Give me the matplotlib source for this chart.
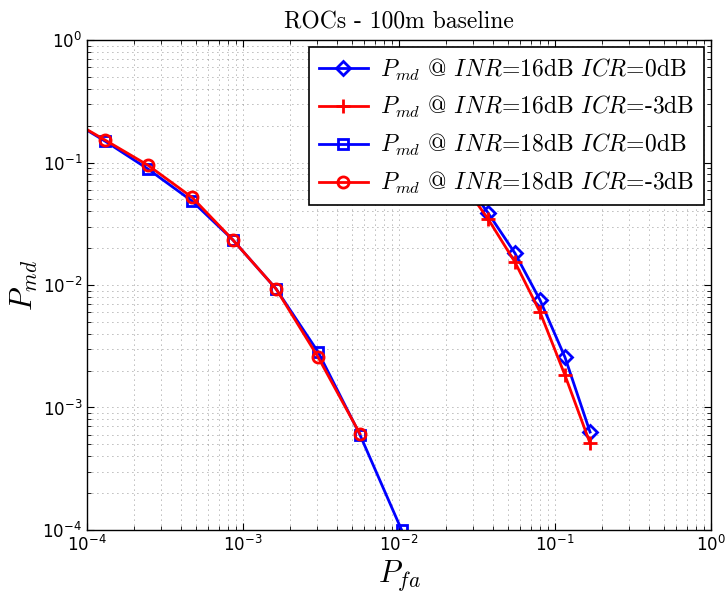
import numpy as np
import matplotlib
matplotlib.use("Agg")
import matplotlib.pyplot as plt
from matplotlib.ticker import LogLocator, NullFormatter

plt.rcParams['mathtext.fontset'] = 'cm'
plt.rcParams['font.family'] = 'DejaVu Sans'
plt.rcParams['axes.unicode_minus'] = False

# INR=16dB series (first points are hidden behind the legend)
pfa_16_0 = [0.0120, 0.0175, 0.0255, 0.0373, 0.0554, 0.0802, 0.1159, 0.168]
pmd_16_0 = [0.25, 0.14, 0.075, 0.0387, 0.0182, 0.00755, 0.00258, 0.00063]
pfa_16_3 = [0.0120, 0.0175, 0.0255, 0.0373, 0.0554, 0.0802, 0.1159, 0.168]
pmd_16_3 = [0.23, 0.13, 0.068, 0.0346, 0.0154, 0.00602, 0.00184, 0.00051]

# INR=18dB series
pfa_18_0 = [6.9e-5, 1.30e-4, 2.46e-4, 4.71e-4, 8.63e-4, 1.63e-3, 3.03e-3, 5.62e-3, 1.04e-2]
pmd_18_0 = [0.244, 0.150, 0.0885, 0.0485, 0.0233, 0.0093, 0.00284, 0.00060, 0.0001]
pfa_18_3 = [6.9e-5, 1.30e-4, 2.46e-4, 4.71e-4, 8.63e-4, 1.63e-3, 3.03e-3, 5.62e-3]
pmd_18_3 = [0.244, 0.153, 0.095, 0.052, 0.0233, 0.0093, 0.00258, 0.00061]

labels = [r'$P_{md}$ @ $INR$=16dB $ICR$=0dB',
          r'$P_{md}$ @ $INR$=16dB $ICR$=-3dB',
          r'$P_{md}$ @ $INR$=18dB $ICR$=0dB',
          r'$P_{md}$ @ $INR$=18dB $ICR$=-3dB']

fig = plt.figure(figsize=(7.28, 5.99), dpi=100)
ax = fig.add_axes([0.1195, 0.1152, 0.857, 0.818])

ax.loglog(pfa_16_0, pmd_16_0, '-', color='blue', lw=2, marker='D', ms=7, mfc='none', mew=2, label=labels[0])
ax.loglog(pfa_16_3, pmd_16_3, '-', color='red', lw=2, marker='+', ms=10, mew=2, label=labels[1])
ax.loglog(pfa_18_0, pmd_18_0, '-', color='blue', lw=2, marker='s', ms=7, mfc='none', mew=2, label=labels[2])
ax.loglog(pfa_18_3, pmd_18_3, '-', color='red', lw=2, marker='o', ms=8, mfc='none', mew=2, label=labels[3])

ax.set_xlim(1e-4, 1)
ax.set_ylim(1e-4, 1)
for a in (ax.xaxis, ax.yaxis):
    a.set_major_locator(LogLocator(base=10, numticks=10))
    a.set_minor_locator(LogLocator(base=10, subs=np.arange(2, 10), numticks=50))
    a.set_minor_formatter(NullFormatter())
ax.grid(True, which='both', linestyle=(0, (1, 5)), color='black', lw=0.6, alpha=0.55)
ax.tick_params(which='both', direction='in', top=True, right=True, labelsize=12)
ax.tick_params(which='major', length=5)
ax.tick_params(which='minor', length=3)
for s in ax.spines.values():
    s.set_linewidth(1)

ax.set_xlabel(r'$P_{fa}$', fontsize=22, labelpad=2)
ax.set_ylabel(r'$P_{md}$', fontsize=22, labelpad=2)
ax.set_title('ROCs - 100m baseline', family='cmr10', fontsize=17, pad=8)

leg = ax.legend(loc='upper right', prop={'family': 'cmr10', 'size': 17}, fancybox=False,
                framealpha=1, edgecolor='black', handlelength=2.1, borderaxespad=0.3,
                labelspacing=0.5, handletextpad=0.5)
leg.get_frame().set_linewidth(1.2)

plt.savefig('out.png', dpi=100)
